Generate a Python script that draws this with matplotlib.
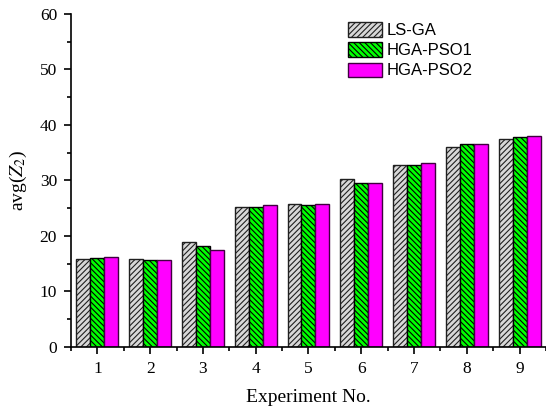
import numpy as np
import matplotlib.pyplot as plt
from matplotlib.ticker import MultipleLocator

# data
experiments = [1, 2, 3, 4, 5, 6, 7, 8, 9]
ls_ga = [15.9, 15.8, 18.9, 25.3, 25.8, 30.3, 32.8, 36.0, 37.5]
hga_pso1 = [16.0, 15.6, 18.1, 25.3, 25.5, 29.6, 32.8, 36.5, 37.8]
hga_pso2 = [16.2, 15.7, 17.4, 25.6, 25.8, 29.6, 33.1, 36.5, 38.0]
names = ['LS-GA', 'HGA-PSO1', 'HGA-PSO2']

plt.rcParams['hatch.linewidth'] = 0.8
plt.rcParams['mathtext.fontset'] = 'stix'

fig = plt.figure(figsize=(5.46, 4.12), dpi=100)
ax = fig.add_axes([0.130, 0.158, 0.870, 0.808])

x = np.array(experiments)
w = 0.265
ax.bar(x - w, ls_ga, w, color='#d8d8d8', edgecolor='#202020', hatch='//////', linewidth=1, label=names[0])
ax.bar(x, hga_pso1, w, color='#00ff00', edgecolor='black', hatch='\\\\\\\\\\\\', linewidth=1, label=names[1])
ax.bar(x + w, hga_pso2, w, color='#ff00ff', edgecolor='#400040', linewidth=1, label=names[2])

ax.set_xlim(0.5, 9.5)
ax.set_ylim(0, 60)
ax.yaxis.set_major_locator(MultipleLocator(10))
ax.yaxis.set_minor_locator(MultipleLocator(5))
ax.set_xticks(experiments)
ax.xaxis.set_minor_locator(MultipleLocator(1, offset=0.5))

ax.spines['top'].set_visible(False)
ax.spines['right'].set_visible(False)
ax.spines['left'].set_linewidth(1.2)
ax.spines['bottom'].set_linewidth(1.2)
ax.tick_params(which='major', direction='out', length=5, width=1.2, pad=5)
ax.tick_params(which='minor', direction='out', length=3, width=1.2)

for lab in ax.get_xticklabels() + ax.get_yticklabels():
    lab.set_fontfamily('Liberation Serif')
    lab.set_fontsize(12.5)

ax.set_xlabel('Experiment No.', fontfamily='Liberation Serif', fontsize=14, labelpad=9)
ax.set_ylabel(r'avg($Z_2$)', fontfamily='Liberation Serif', fontsize=14, labelpad=8)

ax.legend(loc='upper left', bbox_to_anchor=(0.552, 1.02), frameon=False,
          prop={'family': 'Liberation Sans', 'size': 12},
          handlelength=2.0, handleheight=0.95, handletextpad=0.3, labelspacing=0.25)

fig.savefig('out.png', dpi=100)
